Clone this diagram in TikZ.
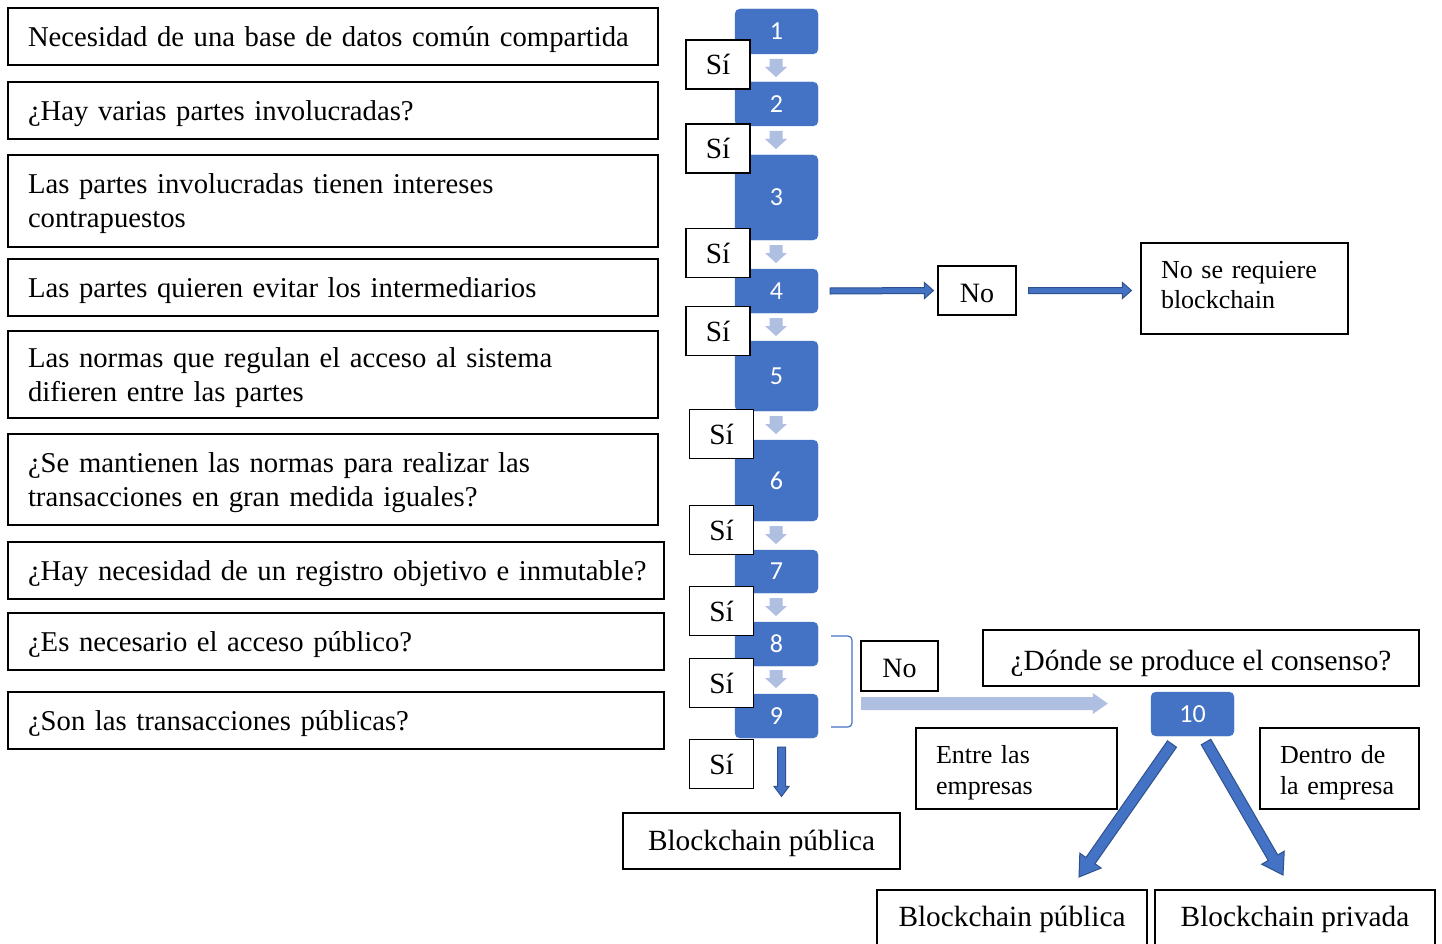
\documentclass[tikz,border=0pt]{standalone}
\usepackage{fontspec}
\setmainfont{Liberation Serif}
\newfontfamily\numfont{Carlito}
\usetikzlibrary{calc}
\hyphenpenalty=10000
\exhyphenpenalty=10000
\hbadness=10000
\hfuzz=50pt
\definecolor{nblue}{HTML}{4472C4}
\definecolor{dblue}{HTML}{2F528F}
\definecolor{lblue}{HTML}{AFBFE2}
% block arrow: #1 start, #2 end, #3 shaft half, #4 head half, #5 head length, #6 style
\newcommand{\blockarr}[6]{%
  \coordinate (ba-h) at ($(#2)!#5!(#1)$);
  \draw[#6] ($(#1)!#3!90:(#2)$) -- ($(ba-h)!#3!90:(#2)$) -- ($(ba-h)!#4!90:(#2)$)
    -- (#2) -- ($(ba-h)!#4!-90:(#2)$) -- ($(ba-h)!#3!-90:(#2)$) -- ($(#1)!#3!-90:(#2)$) -- cycle;
}
\tikzset{
  txt/.style={font=\fontsize{29.3}{34}\selectfont},
  ltxt/.style={font=\fontsize{28.7}{34}\selectfont},
  stxt/.style={font=\fontsize{26}{30.5}\selectfont},
  qbox/.style={ltxt, draw=black, line width=1.2pt, rectangle, align=left, inner xsep=20pt, inner ysep=0pt, fill=white, text height=25.6pt},
  rbox/.style={qbox, stxt},
  cbox/.style={txt, draw=black, line width=1.2pt, rectangle, align=center, inner sep=0pt, fill=white},
  nbox/.style={fill=nblue, draw=nblue, rounded corners=5pt, text=white, minimum width=83pt, inner sep=0pt, font=\numfont\fontsize{26}{28}\selectfont},
  sbox/.style={cbox, minimum width=64pt, minimum height=49pt},
  lightarr/.style={fill=lblue, draw=none},
  darkarr/.style={fill=nblue, draw=dblue, line width=1pt, line join=miter},
}
\begin{document}
\begin{tikzpicture}[x=1pt,y=-1pt]
\clip (0,0) rectangle (1442,944);
\fill[white] (0,0) rectangle (1442,944);

% question boxes
\node[qbox, text width=610pt, minimum height=57pt] (q1) at (333,36.5) {Necesidad de una base de datos común compartida};
\node[qbox, text width=610pt, minimum height=57pt] (q2) at (333,110.5) {¿Hay varias partes involucradas?};
\node[qbox, text width=610pt, minimum height=92pt] (q3) at (333,201) {Las partes involucradas tienen intereses\\contrapuestos};
\node[qbox, text width=610pt, minimum height=57pt] (q4) at (333,287.5) {Las partes quieren evitar los intermediarios};
\node[qbox, text width=610pt, minimum height=87pt] (q5) at (333,374.5) {Las normas que regulan el acceso al sistema\\difieren entre las partes};
\node[qbox, text width=610pt, minimum height=91pt] (q6) at (333,479.5) {¿Se mantienen las normas para realizar las\\transacciones en gran medida iguales?};
\node[qbox, text width=616pt, minimum height=57pt] (q7) at (336,570.5) {\mbox{¿Hay necesidad de un registro objetivo e inmutable?}};
\node[qbox, text width=616pt, minimum height=57pt] (q8) at (336,641.5) {¿Es necesario el acceso público?};
\node[qbox, text width=616pt, minimum height=57pt] (q9) at (336,720.5) {¿Son las transacciones públicas?};

% numbered boxes
\node[nbox, minimum height=45pt] (n1) at (776.5,31.5) {1};
\node[nbox, minimum height=44pt] (n2) at (776.5,104) {2};
\node[nbox, minimum height=85pt] (n3) at (776.5,197.5) {3};
\node[nbox, minimum height=44pt] (n4) at (776.5,291) {4};
\node[nbox, minimum height=70pt] (n5) at (776.5,376) {5};
\node[nbox, minimum height=81pt] (n6) at (776.5,480.5) {6};
\node[nbox, minimum height=43pt] (n7) at (776.5,571.5) {7};
\node[nbox, minimum height=44pt] (n8) at (776.5,644) {8};
\node[nbox, minimum height=44pt] (n9) at (776.5,716) {9};
\node[nbox, minimum height=44pt] (n10) at (1192.5,714) {10};

% light arrows between numbered boxes
\foreach \i/\a/\b in {1/59/77, 2/131/149, 3/245/263, 4/318/336, 5/416/434, 6/526/544, 7/598/616, 8/670/688}{
  \coordinate (la\i s) at (776,\a);
  \coordinate (la\i e) at (776,\b);
  \blockarr{la\i s}{la\i e}{6.5pt}{11pt}{10pt}{lightarr}
}

% Sí boxes
\node[sbox] (s1) at (718,64.5) {Sí};
\node[sbox] (s2) at (718,148.5) {Sí};
\node[sbox] (s3) at (718,253) {Sí};
\node[sbox] (s4) at (718,331) {Sí};
\node[sbox] (s5) at (721.5,434) {Sí};
\node[sbox] (s6) at (721.5,530) {Sí};
\node[sbox] (s7) at (721.5,611) {Sí};
\node[sbox] (s8) at (721.5,683) {Sí};
\node[sbox] (s9) at (721.5,764) {Sí};

% No branch at 4
\node[cbox, font=\fontsize{28}{32}\selectfont, text height=23.4pt, text depth=0pt, minimum width=78pt, minimum height=49pt] (no1) at (977,290.5) {No};
\node[rbox, text width=167pt, minimum height=91pt, text height=10.2pt] (nsr) at (1244.5,288.5) {No se requiere\\blockchain};
\coordinate (d1s) at ($(n4.east)+(12,0)$);
\coordinate (d1e) at ($(no1.west)+(-4,0)$);
\blockarr{d1s}{d1e}{3pt}{8pt}{9pt}{darkarr}
\coordinate (d2s) at ($(no1.east)+(12,0)$);
\coordinate (d2e) at ($(nsr.west |- no1.east)+(-9,0)$);
\blockarr{d2s}{d2e}{3pt}{8pt}{9pt}{darkarr}

% bottom of the chain
\node[cbox, text height=25.6pt, text depth=6.3pt, minimum width=277pt, minimum height=56pt] (bp1) at (761.5,841) {Blockchain pública};
\coordinate (d3s) at (781.5,747);
\coordinate (d3e) at ($(bp1.north)+(20,-16)$);
\blockarr{d3s}{d3e}{4pt}{7.5pt}{10pt}{darkarr}

% bracket and No branch at 8/9
\draw[nblue, line width=1.2pt, rounded corners=4pt] (831,636) -| (852,727) -- (831,727);
\node[cbox, font=\fontsize{28}{32}\selectfont, text height=23.4pt, text depth=0pt, minimum width=77pt, minimum height=50pt] (no2) at (899.5,666) {No};
\coordinate (l2s) at (861,703.5);
\coordinate (l2e) at ($(n10.west)+(-43,-10.5)$);
\blockarr{l2s}{l2e}{6.5pt}{10.5pt}{15pt}{lightarr}

\node[cbox, text height=32pt, text depth=6.3pt, minimum width=436pt, minimum height=56pt] (dnd) at (1201,658) {¿Dónde se produce el consenso?};
\node[rbox, text width=161pt, minimum height=81pt, text height=26.8pt] (entre) at (1016.5,768.5) {Entre las\\empresas};
\node[rbox, inner xsep=20pt, text width=119pt, minimum height=81pt, text height=26.8pt] (dentro) at (1339.5,768.5) {Dentro de\\la empresa};

\node[cbox, text height=23.6pt, text depth=6.3pt, minimum width=270pt, minimum height=56pt] (bp2) at (1012,918) {Blockchain pública};
\node[cbox, text height=23.6pt, text depth=6.3pt, minimum width=280pt, minimum height=56pt] (bp3) at (1295,918) {Blockchain privada};

\coordinate (d4s) at (1172,744);
\coordinate (d4e) at (1079,877);
\blockarr{d4s}{d4e}{5.5pt}{13pt}{20pt}{darkarr}
\coordinate (d5s) at (1206,742);
\coordinate (d5e) at (1283,875);
\blockarr{d5s}{d5e}{5.5pt}{13pt}{20pt}{darkarr}
\end{tikzpicture}
\end{document}
